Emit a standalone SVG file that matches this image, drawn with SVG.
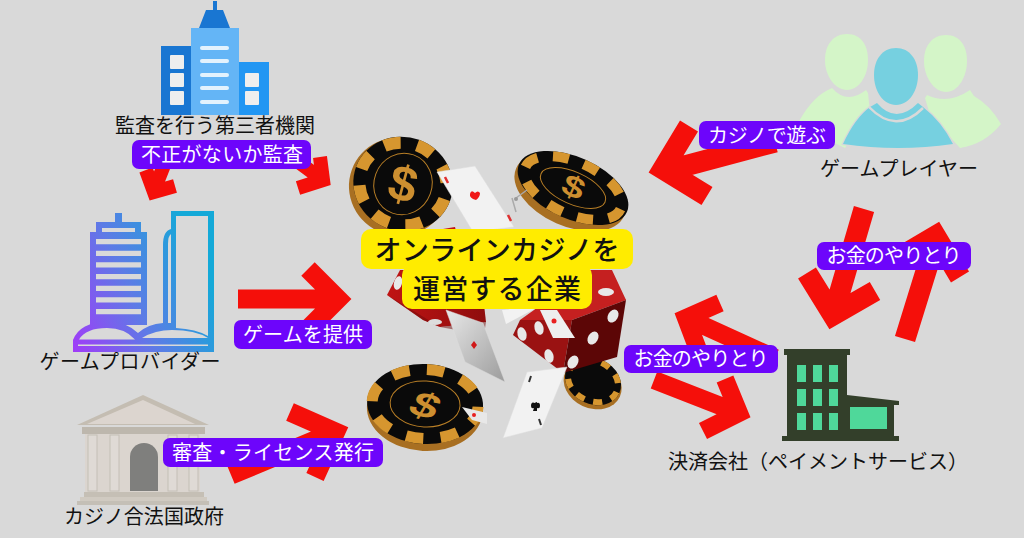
<svg xmlns="http://www.w3.org/2000/svg" width="1024" height="538" viewBox="0 0 1024 538">
<style>
text{font-family:"Noto Sans CJK JP","Noto Sans",sans-serif;text-anchor:middle}
.a{fill:none;stroke:#f50f0a;stroke-linejoin:miter;stroke-miterlimit:6;stroke-linecap:butt}
.n{font-size:20px;fill:#111}
.lb{fill:#6d05fb}
.lt{font-size:20px;fill:#fff;font-weight:400}
.y{fill:#ffec00}
.yt{font-size:27px;fill:#111;font-weight:500}
.seg{fill:none;stroke:#d6962f;stroke-dasharray:1 1}
.ring{fill:none;stroke:#b97f26;stroke-width:1}
.dol{font-family:"Liberation Sans",sans-serif;font-weight:700;fill:#cd8f30}
.card{stroke:#ddd;stroke-width:.5}
</style>
<defs>
<linearGradient id="g" gradientUnits="userSpaceOnUse" x1="73" y1="352" x2="214" y2="290"><stop offset="0" stop-color="#a13bf8"/><stop offset=".5" stop-color="#5d7be6"/><stop offset="1" stop-color="#14a9d8"/></linearGradient>
<linearGradient id="cb" x1="0" y1="0" x2="1" y2="1"><stop offset="0" stop-color="#e8e8e8"/><stop offset="1" stop-color="#9c9c9c"/></linearGradient>
<linearGradient id="ld" x1="0" y1="0" x2="1" y2="0"><stop offset="0" stop-color="#c01414"/><stop offset="1" stop-color="#8e0d0d"/></linearGradient>
</defs>
<rect width="1024" height="538" fill="#d9d9d9"/>

<g id="node-casino">
<g transform="translate(593,381) rotate(25)"><ellipse cx="1" cy="3" rx="30" ry="24" fill="#a86f22"/><ellipse rx="29" ry="23" fill="#0a0a0a"/><ellipse rx="26" ry="20" class="seg" stroke-width="6" pathLength="16"/></g>
<g id="die-left">
<path d="M387,295 L400,270 L480,270 L486,322 L440,327 L423,320Z" fill="url(#ld)"/>
<path d="M387,295 L423,320 L440,327 L486,322 L484,335 L440,327Z" fill="#700a0a" opacity=".5"/>
<ellipse cx="398" cy="283" rx="4" ry="7" fill="#e8e8e8" transform="rotate(15 398 283)"/>
<ellipse cx="435" cy="322" rx="7" ry="3" fill="#ddd"/>
<path d="M443,229 L455,227 L456,231 L443,232Z" fill="#c01414"/>
</g>
<g id="chip1" transform="translate(403,184) rotate(20)">
<ellipse cx="-3" cy="4" rx="50" ry="49" fill="#a86f22"/>
<ellipse rx="50" ry="47" fill="#0a0a0a"/>
<ellipse rx="44" ry="41" class="seg" stroke-width="12" pathLength="16"/>
<ellipse rx="29" ry="31" class="ring"/>
<text y="17" font-size="50" class="dol" transform="rotate(-5)">$</text>
</g>
<g id="chip2" transform="translate(573,188) rotate(24)">
<ellipse cx="-1" cy="5" rx="59" ry="34" fill="#a86f22"/>
<ellipse rx="59" ry="31" fill="#0a0a0a"/>
<ellipse rx="52" ry="26" class="seg" stroke-width="10" pathLength="16"/>
<ellipse rx="35" ry="16" class="ring"/>
<text y="12" font-size="40" class="dol" transform="scale(1,.75)">$</text>
</g>
<g id="chip3" transform="translate(425,406) rotate(3)">
<ellipse cy="3" rx="58" ry="42" fill="#a86f22"/>
<ellipse cy="-2" rx="58" ry="40" fill="#0a0a0a"/>
<ellipse cy="-2" rx="53" ry="34.500" class="seg" stroke-width="11" pathLength="16"/>
<ellipse cy="-2" rx="35" ry="23" class="ring"/>
<text y="15" font-size="46" class="dol" transform="scale(1.1,.75) rotate(20)">$</text>
</g>
<path d="M516,212 L512,198 M516,198 L527,190" stroke="#aaa" stroke-width="1.5" fill="none"/><circle cx="516" cy="199" r="2" fill="#999"/>
<g id="card-a"><path d="M437,172 L475,166 L514,227 L473,232Z" fill="#f2f2f2" class="card"/><path d="M475,193 q-4,-4 -5,1 q-1,4 6,6 q4,-3 4,-7 q-2,-3 -5,0Z" fill="#f01818"/><path d="M445,177l3,6M508,215l3,6" stroke="#e03030" stroke-width="2.5"/></g>
<g id="card-d"><path d="M502,310 L540,306 L506,324Z" fill="#f2f2f2"/></g>
<g id="die-right">
<path d="M520,320 L590,270 L626,300 L572,320Z" fill="#c52020"/>
<path d="M520,320 L572,320 L563,373 L513,335Z" fill="#9a1212"/>
<path d="M572,320 L626,300 L617,357 L563,373Z" fill="#5c0606"/>
<path d="M586,270 L612,270 L626,300 L600,305Z" fill="#c52020"/>
<g fill="#e8e8e8"><ellipse cx="522" cy="334" rx="4.5" ry="7" transform="rotate(-15 522 334)"/><ellipse cx="539" cy="328" rx="4.500" ry="7" transform="rotate(-15 539 328)"/><ellipse cx="549" cy="356" rx="4.500" ry="7" transform="rotate(-15 549 356)"/><ellipse cx="573" cy="362" rx="5" ry="7" transform="rotate(30 573 362)"/><ellipse cx="593" cy="338" rx="5" ry="7" transform="rotate(30 593 338)"/><ellipse cx="613" cy="316" rx="5" ry="7" transform="rotate(30 613 316)"/><ellipse cx="606" cy="292" rx="8" ry="4"/></g>
</g>
<g id="card-e"><path d="M540,310 L557,310 L575,338 L553,338Z" fill="#eee"/><circle cx="554" cy="321" r="2.500" fill="#e82020"/></g>
<g id="card-b"><path d="M446,310 L483,323 L505,382 L465,362Z" fill="url(#cb)" class="card"/><path d="M474,341 l3,4 l-3,4 l-3,-4Z" fill="#d01818"/></g>
<g id="card-c"><path d="M527,372 L567,367 L542,428 L503,438Z" fill="#f2f2f2" class="card"/><path d="M535,403 q-4,-2 -4,3 q0,3 3,2 l-1,3 l4,0 l0,-3 q3,1 3,-2 q0,-4 -3,-3 q0,-2 -2,0Z" fill="#111"/><path d="M531,376l-2,6M541,425l-2,-6" stroke="#333" stroke-width="2"/></g>
<g id="card-f"><path d="M462,407 L487,413 L487,424 L472,420Z" fill="#e8e8e8"/><circle cx="474" cy="415" r="2" fill="#e82020"/></g>
<rect x="361" y="229" width="272" height="40" rx="10" class="y"/>
<rect x="402" y="265" width="190" height="44" rx="10" class="y"/>
<text x="497" y="260" class="yt" textLength="245">オンラインカジノを</text>
<text x="497" y="299" class="yt" textLength="168">運営する企業</text>
</g>

<g id="connectors">
<g class="a" stroke-width="14"><path d="M170,150 L155,188 M146,170 L154,192 L175,186"/><path d="M285,152 L320,178 M320,157 L323,180 L298,188"/></g>
<g class="a" stroke-width="19">
<path d="M238,299 L335,299 M308,269 L338,299 L308,329"/>
<path d="M231,475 L332,433 M290,412 L335.600,432 L315,477"/>
</g>
<g class="a" stroke-width="21">
<path d="M775,142 L666,171 M689,126 L663,169 L707,196"/>
<path d="M864,209 L834,312 M807,273 L833,315 L875,291"/>
<path d="M905,339 L936,239 M895,260 L935.500,236 L960,277"/>
</g>
<g class="a" stroke-width="18">
<path d="M775,358 L689,319 M720,303 L686,318 L700,355"/>
<path d="M654,380 L736,412 M725,379 L739,413 L703,431"/>
</g>
</g>

<g id="node-auditor">
<path d="M213,1h4v10h-4Z M206,10h17l7,18h-31Z" fill="#1976d2"/>
<rect x="161" y="46" width="30" height="69" fill="#1976d2"/>
<rect x="239" y="62" width="30" height="53" fill="#2196f3"/>
<rect x="191" y="28" width="48" height="87" fill="#64b5f6"/>
<g fill="#eee"><rect x="170" y="55" width="14" height="14" rx="1"/><rect x="170" y="73" width="14" height="14" rx="1"/><rect x="170" y="91" width="14" height="14" rx="1"/><rect x="245" y="73" width="14" height="14" rx="1"/><rect x="245" y="91" width="14" height="14" rx="1"/></g>
<g fill="#e3f2fd"><rect x="200" y="46" width="29" height="4" rx="2"/><rect x="200" y="59" width="29" height="4" rx="2"/><rect x="200" y="73" width="29" height="4" rx="2"/><rect x="200" y="86" width="29" height="4" rx="2"/><rect x="200" y="100" width="29" height="4" rx="2"/></g>
<text x="215" y="133" class="n" textLength="200">監査を行う第三者機関</text>
</g>

<g id="node-provider">
<path fill="url(#g)" fill-rule="evenodd" d="M115,213h7v9h19v10h6v93h-57v-93h6v-10h19Z M102,228v4h33v-4Z M96,239v5.300h45v-5.300Z M96,250.700v5.300h45v-5.300Z M96,262.300v5.300h45v-5.300Z M96,274v5.300h45v-5.300Z M96,285.700v5.300h45v-5.300Z M96,297.300v5.300h45v-5.300Z M96,309v5.300h45v-5.300Z"/>
<path fill="url(#g)" fill-rule="evenodd" d="M171,211h43v141h-141v-12q7,-18 34,-18q20,0 31,11q10,-9 25,-10v-78q0,-14 8,-16Z M176,216v112q20,1 32,8v-120Z M171,234q-3,2 -3,10v79h3Z"/>
<path fill="#d9d9d9" d="M79,339.500Q86,328 107,328Q125,328 135,339.500Z M142,338Q155,330 172,330Q195,330 208,338Z"/>
<rect x="78" y="344.500" width="130" height="1.500" fill="#d9d9d9"/>
<text x="130" y="369" class="n" textLength="181">ゲームプロバイダー</text>
</g>

<g id="node-government">
<path d="M143,395 L209,425 L77,425Z" fill="#c4bdb2"/>
<path d="M143,400 L195,424 L87,424Z" fill="#dcd5cf"/>
<rect x="82" y="427" width="123" height="7" fill="#bdb7ad"/>
<rect x="85" y="434" width="115" height="58" fill="#dbd5cf"/>
<g fill="#dfdad5" stroke="#c4bfb6" stroke-width="1"><rect x="88" y="435" width="9" height="56"/><rect x="110" y="435" width="9" height="56"/><rect x="168" y="435" width="9" height="56"/><rect x="189" y="435" width="9" height="56"/></g>
<path d="M130,491V457a14,14 0 0 1 28,0V491Z" fill="#7f7f7d"/>
<rect x="84" y="492" width="120" height="5" fill="#c5bfb5"/><rect x="80" y="497" width="127" height="4" fill="#d0cac1"/><rect x="77" y="501" width="132" height="4" fill="#c4bfb6"/>
<text x="144" y="524" class="n" textLength="160">カジノ合法国政府</text>
</g>

<g id="node-player">
<g fill="#d4f5c8"><path d="M847,34C861,34 868,45 868,60C868,76 859,90 847,90C835,90 825,76 825,60C825,45 833,34 847,34Z"/><path d="M946,35C960,35 967,46 967,61C967,77 958,92 946,92C934,92 924,77 924,61C924,46 932,35 946,35Z"/>
<path d="M797,125 Q810,100 826,91 L832,88 Q847,105 866,90 L868,93 L870,112 L845,148Z"/>
<path d="M960,148 Q985,144 1001,124 Q990,105 974,96 L970,90 Q948,105 927,95 L925,98 L930,115Z"/></g>
<path d="M896,48C910,48 918,60 918,75C918,91 909,105 896,105C883,105 874,91 874,75C874,60 882,48 896,48Z" fill="#76d0e0"/>
<path d="M843,144 Q855,118 870,107 L877,103 Q896,125 918,103 L923,107 Q942,122 953,144 Q898,152 843,144Z" fill="#76d0e0" stroke="#d9d9d9" stroke-width="2.500" paint-order="stroke"/>
<path d="M869,107 Q896,135 923,108" fill="none" stroke="#d9d9d9" stroke-width="2.500"/>
<text x="899" y="176" class="n" textLength="158">ゲームプレイヤー</text>
</g>

<g id="node-payment">
<path d="M784,349H850V355H847V395L899,401V405H894V436H899V441H782V436H787V355H784Z" fill="#333f2a"/>
<g fill="#4fd89a"><rect x="797" y="365" width="9" height="17"/><rect x="813" y="365" width="9" height="17"/><rect x="829" y="365" width="9" height="17"/><rect x="797" y="389" width="9" height="17"/><rect x="813" y="389" width="9" height="17"/><rect x="829" y="389" width="9" height="17"/><rect x="797" y="413" width="9" height="17"/><rect x="813" y="413" width="9" height="17"/><rect x="829" y="413" width="9" height="17"/><rect x="850" y="407" width="37" height="22"/></g>
<text x="818" y="469" class="n" textLength="300">決済会社（ペイメントサービス）</text>
</g>

<g id="labels">
<g id="label-audit"><rect x="132" y="140" width="179" height="29" rx="7" class="lb"/><text x="222" y="162" class="lt" textLength="162">不正がないか監査</text></g>
<g id="label-game"><rect x="234" y="320" width="138" height="29" rx="7" class="lb"/><text x="303" y="342" class="lt" textLength="120">ゲームを提供</text></g>
<g id="label-license"><rect x="163" y="438" width="220" height="29" rx="7" class="lb"/><text x="273" y="460" class="lt" textLength="202">審査・ライセンス発行</text></g>
<g id="label-play"><rect x="699" y="121" width="136" height="28" rx="7" class="lb"/><text x="767" y="143" class="lt" textLength="118">カジノで遊ぶ</text></g>
<g id="label-money1"><rect x="817" y="242" width="154" height="28" rx="7" class="lb"/><text x="894" y="263" class="lt" textLength="135">お金のやりとり</text></g>
<g id="label-money2"><rect x="624" y="345" width="154" height="28" rx="7" class="lb"/><text x="701" y="366" class="lt" textLength="135">お金のやりとり</text></g>
</g>
</svg>
